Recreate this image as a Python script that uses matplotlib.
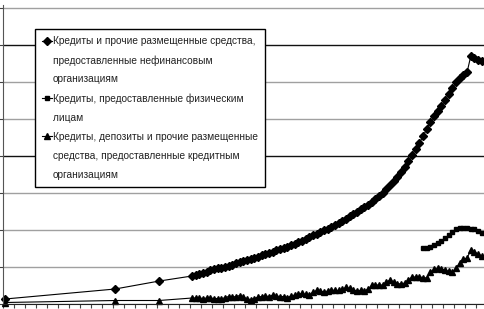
import matplotlib
matplotlib.use("Agg")
import matplotlib.pyplot as plt
from matplotlib.lines import Line2D
import numpy as np

# month index (0 = first observation); sparse start, then monthly
months_sparse = [0, 30, 42]
months_dense = list(range(51, 131))

# credits to non-financial organisations, bln rub
nonfin_sparse = [270, 810, 1240]
nonfin_dense = [
    1514, 1568, 1622, 1676, 1730, 1838, 1892, 1919, 1946, 2000,
    2054, 2108, 2216, 2270, 2324, 2378, 2432, 2486, 2541, 2622,
    2703, 2757, 2811, 2892, 2973, 3054, 3108, 3189, 3270, 3351,
    3432, 3514, 3622, 3703, 3784, 3892, 4000, 4054, 4162, 4270,
    4378, 4486, 4595, 4730, 4865, 4973, 5135, 5243, 5351, 5514,
    5676, 5838, 6000, 6216, 6432, 6649, 6865, 7135, 7405, 7730,
    8054, 8378, 8703, 9081, 9459, 9838, 10162, 10432, 10703, 11027,
    11351, 11676, 12000, 12216, 12378, 12541, 13405, 13297, 13189, 13135,
]

# credits to individuals (reported from month 114)
months_ind = list(range(114, 131))
individuals = [3027, 3054, 3108, 3189, 3297, 3405, 3541, 3730, 3892, 4027,
               4108, 4135, 4108, 4081, 4027, 3946, 3838]

# credits/deposits to credit organisations
credorg_sparse = [81, 189, 189]
credorg_dense = [
    324, 324, 324, 297, 324, 324, 297, 297, 270, 351,
    405, 378, 405, 459, 378, 270, 243, 297, 378, 405,
    432, 405, 486, 432, 405, 405, 351, 432, 486, 541,
    568, 514, 486, 649, 730, 703, 649, 703, 757, 730,
    730, 811, 892, 838, 757, 703, 730, 703, 811, 1000,
    1027, 1027, 1027, 1189, 1297, 1189, 1108, 1081, 1135, 1297,
    1459, 1459, 1459, 1432, 1405, 1730, 1865, 1919, 1892, 1838,
    1757, 1730, 1946, 2216, 2432, 2486, 2919, 2811, 2703, 2595,
]

labels = [
    "Кредиты и прочие размещенные средства,",
    "предоставленные нефинансовым",
    "организациям",
    "Кредиты, предоставленные физическим",
    "лицам",
    "Кредиты, депозиты и прочие размещенные",
    "средства, предоставленные кредитным",
    "организациям",
]

W, H = 484, 309
fig = plt.figure(figsize=(W / 100, H / 100), dpi=100)
ax = fig.add_axes([3 / W, 5 / H, (W - 3) / W, 299 / H])

kw = dict(color="black", lw=0.8, clip_on=False)
l1, = ax.plot(months_sparse + months_dense, nonfin_sparse + nonfin_dense,
              marker="D", ms=3.8, **kw)
l2, = ax.plot(months_ind, individuals, marker="s", ms=3.4, **kw)
l3, = ax.plot(months_sparse + months_dense, credorg_sparse + credorg_dense,
              marker="^", ms=3.8, **kw)

ax.set_xlim(-0.55, 130.6)
ax.set_ylim(0, 16162)
ax.set_yticks(np.arange(0, 16001, 2000))
ax.set_xticks(np.arange(-0.5, 131, 3))
ax.tick_params(axis="both", length=3, width=0.8, direction="out",
               labelleft=False, labelbottom=False, color="#444444")
ax.grid(axis="y", color="#a0a0a0", lw=1.0)
for i, g in enumerate(ax.get_ygridlines()):
    if i in (4, 7):
        g.set_color("#111111")
ax.set_axisbelow(True)
for s in ("top", "right"):
    ax.spines[s].set_visible(False)
ax.spines["left"].set_color("#555555")
ax.spines["bottom"].set_color("#222222")

blank = Line2D([], [], linestyle="none")
handles = [l1, blank, blank, l2, blank, l3, blank, blank]
leg = ax.legend(handles, labels, loc="upper left",
                bbox_to_anchor=(35 / W, 1 - 29 / H), bbox_transform=fig.transFigure,
                borderaxespad=0, fancybox=False, framealpha=1, edgecolor="black",
                handlelength=1.0, handletextpad=0.08, labelspacing=0.88,
                borderpad=0.7,
                prop={"family": ["Liberation Sans Narrow", "Liberation Sans"], "size": 7.3})
leg.get_frame().set_linewidth(1.0)
for t in leg.get_texts():
    t.set_color("#222222")

fig.savefig("out.png", dpi=100)
